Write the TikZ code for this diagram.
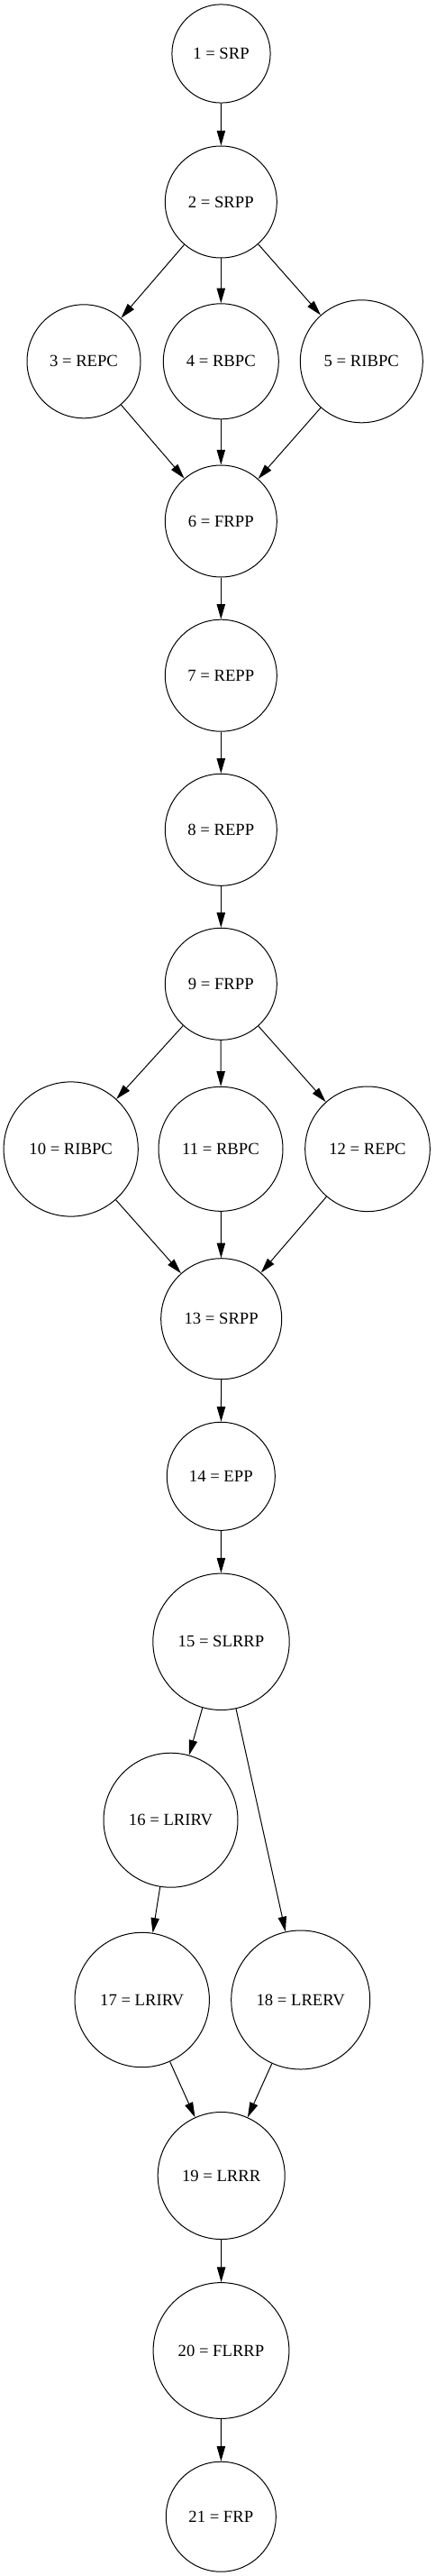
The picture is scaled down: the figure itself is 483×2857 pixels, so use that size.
\documentclass[tikz,border=0pt]{standalone}
\usepackage{fontspec}
\setmainfont{Liberation Serif}
\usetikzlibrary{arrows.meta}
\tikzset{
  st/.style={circle, draw, line width=0.75pt, inner sep=0pt, font=\fontsize{14}{16}\selectfont},
  rad/.style={minimum size=#1*1.5pt},
  edge/.style={line width=0.75pt, -{Triangle[length=12.5pt,width=7pt]}}
}
\begin{document}
\begin{tikzpicture}[x=0.75pt,y=-0.75pt]
\useasboundingbox (0,0) rectangle (483,2857);
\node[st,rad=54.6] (n1) at (245.5,59.5) {1 = SRP};
\node[st,rad=62] (n2) at (245.3,224) {2 = SRPP};
\node[st,rad=63] (n3) at (93,400.8) {3 = REPC};
\node[st,rad=64] (n4) at (245.3,400.8) {4 = RBPC};
\node[st,rad=68] (n5) at (401.3,400.8) {5 = RIBPC};
\node[st,rad=62] (n6) at (245.3,578) {6 = FRPP};
\node[st,rad=62] (n7) at (245.3,749.2) {7 = REPP};
\node[st,rad=62] (n8) at (245.3,920.3) {8 = REPP};
\node[st,rad=62] (n9) at (245.3,1091.3) {9 = FRPP};
\node[st,rad=74.6] (n10) at (78.7,1274.5) {10 = RIBPC};
\node[st,rad=69] (n11) at (245,1274.3) {11 = RBPC};
\node[st,rad=69.3] (n12) at (408,1274.3) {12 = REPC};
\node[st,rad=67] (n13) at (245.7,1462.7) {13 = SRPP};
\node[st,rad=60] (n14) at (245.3,1637.3) {14 = EPP};
\node[st,rad=75.7] (n15) at (245.5,1820.8) {15 = SLRRP};
\node[st,rad=74.5] (n16) at (189.5,2018.7) {16 = LRIRV};
\node[st,rad=74.7] (n17) at (157.7,2218) {17 = LRIRV};
\node[st,rad=77] (n18) at (333.7,2218) {18 = LRERV};
\node[st,rad=70.5] (n19) at (245.7,2413) {19 = LRRR};
\node[st,rad=75.4] (n20) at (245.5,2607) {20 = FLRRP};
\node[st,rad=61] (n21) at (245.3,2791.2) {21 = FRP};
\draw[edge] (n1) -- (n2);
\draw[edge] (n2) -- (n3);
\draw[edge] (n2) -- (n4);
\draw[edge] (n2) -- (n5);
\draw[edge] (n3) -- (n6);
\draw[edge] (n4) -- (n6);
\draw[edge] (n5) -- (n6);
\draw[edge] (n6) -- (n7);
\draw[edge] (n7) -- (n8);
\draw[edge] (n8) -- (n9);
\draw[edge] (n9) -- (n10);
\draw[edge] (n9) -- (n11);
\draw[edge] (n9) -- (n12);
\draw[edge] (n10) -- (n13);
\draw[edge] (n11) -- (n13);
\draw[edge] (n12) -- (n13);
\draw[edge] (n13) -- (n14);
\draw[edge] (n14) -- (n15);
\draw[edge] (n15) -- (n16);
\draw[edge] (n15) -- (n18);
\draw[edge] (n16) -- (n17);
\draw[edge] (n17) -- (n19);
\draw[edge] (n18) -- (n19);
\draw[edge] (n19) -- (n20);
\draw[edge] (n20) -- (n21);
\end{tikzpicture}
\end{document}
